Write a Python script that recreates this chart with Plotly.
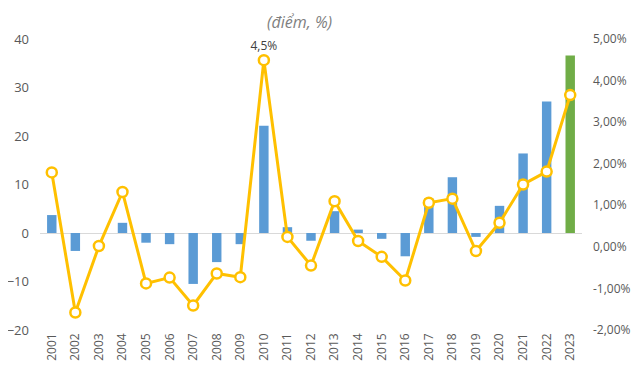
import plotly.graph_objects as go

years = [str(y) for y in range(2001, 2024)]
points = [3.7, -3.7, 0.0, 2.1, -2.0, -2.3, -10.5, -6.0, -2.3, 22.1, 1.2, -1.6,
          4.5, 0.7, -1.2, -4.8, 7.1, 11.5, -0.8, 5.6, 16.4, 27.1, 36.6]
growth = [1.79, -1.58, 0.02, 1.32, -0.88, -0.74, -1.41, -0.64, -0.73, 4.49, 0.24, -0.45,
          1.10, 0.14, -0.24, -0.81, 1.06, 1.16, -0.10, 0.58, 1.50, 1.81, 3.65]
label_year = "2010"
label_text = "4,5%"
left_ticks = [-20, -10, 0, 10, 20, 30, 40]
right_ticks = [-2, -1, 0, 1, 2, 3, 4, 5]
right_ticktext = ["-2,00%", "-1,00%", "0,00%", "1,00%", "2,00%", "3,00%", "4,00%", "5,00%"]

BLUE = "#5B9BD5"
GREEN = "#70AD47"
GOLD = "#FFC000"
GRAY = "#595959"
FONT = "Open Sans"

bar_colors = [BLUE] * (len(years) - 1) + [GREEN]
line_text = [label_text if y == label_year else "" for y in years]

# page body has an 8px margin; figure is sized/offset to compensate
W, H = 632, 367
L, T, R, B = 32, 30.5, 57.5, 45
PW, PH = W - L - R, H - T - B

fig = go.Figure()
fig.add_trace(go.Bar(x=years, y=points, marker=dict(color=bar_colors, line=dict(width=0)),
                     width=0.4, yaxis="y", showlegend=False))
fig.add_trace(go.Scatter(x=years, y=growth, yaxis="y2", mode="lines+markers+text",
                         text=line_text, textposition="top center",
                         textfont=dict(family=FONT, size=12, color="#404040"),
                         line=dict(color=GOLD, width=3),
                         marker=dict(size=10, color="white", line=dict(color=GOLD, width=2.5)),
                         cliponaxis=False, showlegend=False))

fig.update_layout(
    width=W, height=H,
    margin=dict(l=L, r=R, t=T, b=B),
    paper_bgcolor="white", plot_bgcolor="white",
    font=dict(family=FONT, color=GRAY, size=13),
    xaxis=dict(type="category", tickangle=-90, tickfont=dict(size=12, color=GRAY),
               showgrid=False, showline=False, ticks="", automargin=False,
               range=[-0.5, len(years) - 0.5]),
    yaxis=dict(range=[-20, 40], tickvals=left_ticks, showgrid=False, zeroline=True,
               zerolinecolor="#D9D9D9", zerolinewidth=1, showline=False, ticks="",
               automargin=False, tickfont=dict(size=13, color=GRAY), ticklabelstandoff=10),
    yaxis2=dict(range=[-2, 5], overlaying="y", side="right", tickvals=right_ticks,
                ticktext=right_ticktext, showgrid=False, zeroline=False, showline=False,
                ticks="", automargin=False, tickfont=dict(size=12, color=GRAY),
                ticklabelstandoff=10),
    bargap=0.6,
    annotations=[dict(text="<i>(điểm, %)</i>", xref="paper", yref="paper",
                      x=(292 - L) / PW, y=1 + (T - 0.5) / PH,
                      showarrow=False, font=dict(family=FONT, size=16, color="#7F7F7F"),
                      xanchor="center", yanchor="top")],
)

fig.write_html("out.html")
